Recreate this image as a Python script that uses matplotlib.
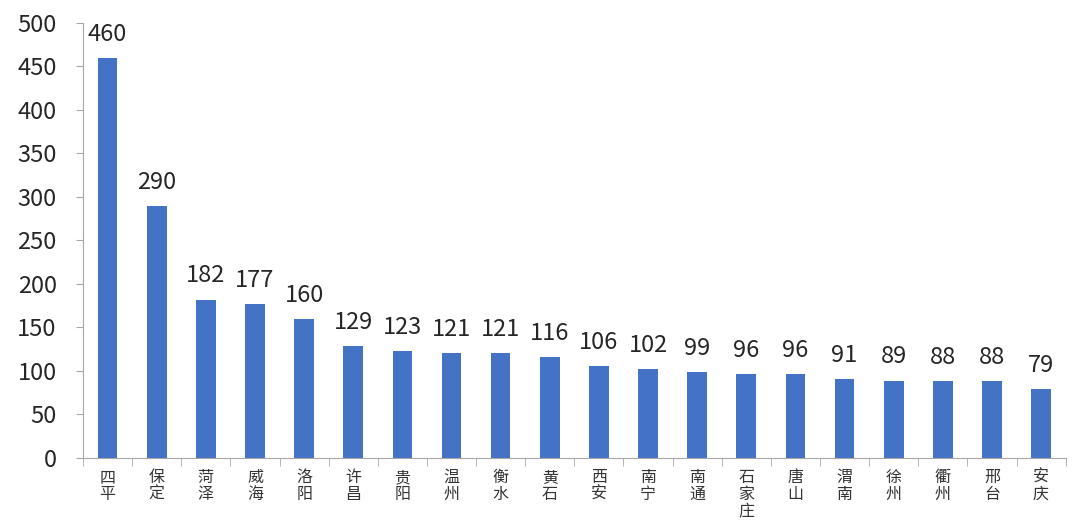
import numpy as np
import matplotlib.pyplot as plt

plt.rcParams['font.family'] = ['Noto Sans CJK SC', 'DejaVu Sans']

# data
cities = ["四平", "保定", "菏泽", "威海", "洛阳", "许昌", "贵阳", "温州", "衡水", "黄石",
          "西安", "南宁", "南通", "石家庄", "唐山", "渭南", "徐州", "衢州", "邢台", "安庆"]
values = [460, 290, 182, 177, 160, 129, 123, 121, 121, 116,
          106, 102, 99, 96, 96, 91, 89, 88, 88, 79]

fig = plt.figure(figsize=(10.8, 5.26), dpi=100)
ax = fig.add_axes([0.0769, 0.1293, 0.9098, 0.827])

x = np.arange(len(cities))
ax.bar(x, values, width=0.4, color="#4472C4", zorder=2)

for xi, v in zip(x, values):
    ax.text(xi, v + 14, str(v), ha="center", va="bottom", fontsize=17,
            color="#262626", fontweight="light")

ax.set_xlim(-0.5, len(cities) - 0.5)
ax.set_ylim(0, 500)
ax.set_yticks(np.arange(0, 501, 50))
ax.tick_params(axis="y", labelsize=17, colors="#262626", length=5, color="#a6a6a6", pad=14)
for lab in ax.get_yticklabels():
    lab.set_fontweight("light")

ax.set_xticks(x)
ax.set_xticklabels(["\n".join(c) for c in cities], fontsize=11.5, color="#333333", linespacing=1.0)
ax.tick_params(axis="x", length=0, pad=8)
ax.set_xticks(np.arange(-0.5, len(cities)), minor=True)
ax.tick_params(axis="x", which="minor", length=6, color="#a6a6a6")

for s in ["top", "right"]:
    ax.spines[s].set_visible(False)
for s in ["left", "bottom"]:
    ax.spines[s].set_color("#a6a6a6")

fig.savefig("out.png", dpi=100)
